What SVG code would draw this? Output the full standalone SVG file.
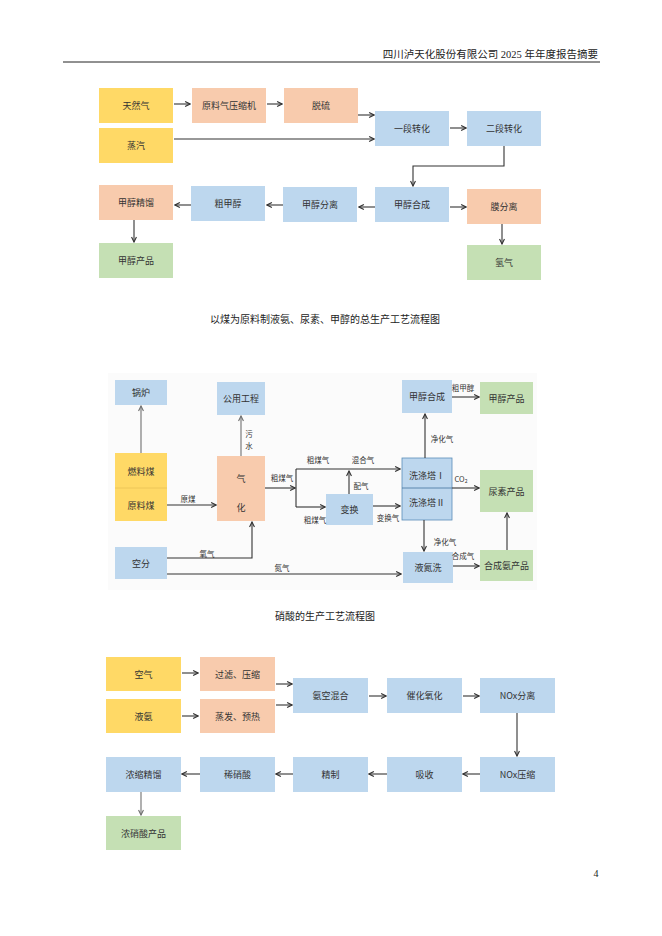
<svg xmlns="http://www.w3.org/2000/svg" width="662" height="936" viewBox="0 0 662 936">
<defs>
<marker id="ah" viewBox="0 0 10 10" refX="9" refY="5" markerWidth="7" markerHeight="7" markerUnits="userSpaceOnUse" orient="auto">
<path d="M2,1.5 L9,5 L2,8.5" fill="none" stroke="#333" stroke-width="1.6"/>
</marker>
<marker id="ahg" viewBox="0 0 10 10" refX="9" refY="5" markerWidth="7" markerHeight="7" markerUnits="userSpaceOnUse" orient="auto">
<path d="M2,1.5 L9,5 L2,8.5" fill="none" stroke="#707070" stroke-width="1.6"/>
</marker>
</defs>
<style>
text{font-family:"Noto Sans CJK SC","Liberation Sans",sans-serif;fill:#333;}
.doc{font-family:"Liberation Serif","Noto Sans CJK SC",serif;fill:#222;}
.n{font-size:9px;text-anchor:middle;dominant-baseline:central;}
.l{font-size:7.5px;text-anchor:middle;dominant-baseline:central;}
.y{fill:#FFD966;}
.p{fill:#F8CBAD;}
.b{fill:#BDD7EE;}
.g{fill:#C5E0B4;}
.c path{fill:none;stroke:#333;stroke-width:1.1;}
.c path.a{marker-end:url(#ah);}
.c path.gr{stroke:#707070;marker-end:url(#ahg);}
</style>
<rect width="662" height="936" fill="#fff"/>
<text class="doc" x="598" y="58" font-size="10.5" text-anchor="end">四川泸天化股份有限公司 2025 年年度报告摘要</text>
<line x1="63" y1="62" x2="600" y2="62" stroke="#222" stroke-width="1"/>

<!-- Diagram 1 -->
<g id="d1-tianranqi"><rect class="y" x="99" y="88" width="74" height="35"/><text class="n" x="136" y="105.5">天然气</text></g>
<g id="d1-yasuoji"><rect class="p" x="192" y="88" width="74" height="35"/><text class="n" x="229" y="105.5">原料气压缩机</text></g>
<g id="d1-tuoliu"><rect class="p" x="284" y="88" width="74" height="35"/><text class="n" x="321" y="105.5">脱硫</text></g>
<g id="d1-zhengqi"><rect class="y" x="99" y="128" width="74" height="35"/><text class="n" x="136" y="145.5">蒸汽</text></g>
<g id="d1-yiduan"><rect class="b" x="375" y="111" width="74" height="35"/><text class="n" x="412" y="128.5">一段转化</text></g>
<g id="d1-erduan"><rect class="b" x="467" y="111" width="74" height="35"/><text class="n" x="504" y="128.5">二段转化</text></g>
<g id="d1-jingliu"><rect class="p" x="99" y="185" width="74" height="35"/><text class="n" x="136" y="202.5">甲醇精馏</text></g>
<g id="d1-cujiachun"><rect class="b" x="191" y="186" width="74" height="35"/><text class="n" x="228" y="203.5">粗甲醇</text></g>
<g id="d1-fenli"><rect class="b" x="283" y="187" width="74" height="35"/><text class="n" x="320" y="204.5">甲醇分离</text></g>
<g id="d1-hecheng"><rect class="b" x="375" y="187" width="74" height="35"/><text class="n" x="412" y="204.5">甲醇合成</text></g>
<g id="d1-mofenli"><rect class="p" x="467" y="189" width="74" height="35"/><text class="n" x="504" y="206.5">膜分离</text></g>
<g id="d1-chanpin"><rect class="g" x="99" y="243" width="74" height="35"/><text class="n" x="136" y="260.5">甲醇产品</text></g>
<g id="d1-qingqi"><rect class="g" x="467" y="245" width="74" height="35"/><text class="n" x="504" y="262.5">氢气</text></g>
<g id="d1-connectors" class="c">
<path class="a" d="M174,104 H190"/>
<path class="a" d="M267,104 H282"/>
<path class="a" d="M358,115 H374"/>
<path class="a" d="M174,139 H374"/>
<path class="a" d="M450,128 H466"/>
<path class="a" d="M504,146 V166 H413 V186"/>
<path class="a" d="M375,207 H359"/>
<path class="a" d="M450,207 H466"/>
<path class="a" d="M502,224 V244"/>
<path class="a" d="M283,205 H267"/>
<path class="a" d="M191,205 H175"/>
<path class="a" d="M134,220 V242"/>
</g>
<text class="doc" x="325" y="323" font-size="10" text-anchor="middle">以煤为原料制液氨、尿素、甲醇的总生产工艺流程图</text>

<!-- Diagram 2 -->
<rect x="108" y="373" width="429" height="217" fill="#FBFBFB"/>
<g id="d2-guolu"><rect class="b" x="115" y="380" width="52" height="25"/><text class="n" x="141" y="392.5">锅炉</text></g>
<g id="d2-gongyong"><rect class="b" x="217" y="382" width="48" height="33"/><text class="n" x="241" y="398.5">公用工程</text></g>
<g id="d2-mei"><rect class="y" x="115" y="453" width="52" height="68"/><line x1="115" y1="488" x2="167" y2="488" stroke="#E8C255" stroke-width="0.8"/><text class="n" x="141" y="471">燃料煤</text><text class="n" x="141" y="505">原料煤</text></g>
<g id="d2-qihua"><rect class="p" x="217" y="456" width="48" height="65"/><text class="n" x="241" y="478" font-size="15">气</text><text class="n" x="241" y="507" font-size="15">化</text></g>
<g id="d2-kongfen"><rect class="b" x="115" y="547" width="52" height="32"/><text class="n" x="141" y="563">空分</text></g>
<g id="d2-hecheng"><rect class="b" x="402" y="380" width="50" height="33"/><text class="n" x="427" y="396.5">甲醇合成</text></g>
<g id="d2-jiachun"><rect class="g" x="480" y="382" width="53" height="32"/><text class="n" x="506.5" y="398">甲醇产品</text></g>
<g id="d2-xidi"><rect class="b" x="402" y="458" width="50" height="62" stroke="#5B8DB8" stroke-width="0.8"/><line x1="402" y1="488" x2="452" y2="488" stroke="#41719C" stroke-width="0.8"/><text class="n" x="427" y="475">洗涤塔Ⅰ</text><text class="n" x="427" y="502">洗涤塔Ⅱ</text></g>
<g id="d2-niaosu"><rect class="g" x="480" y="470" width="53" height="42"/><text class="n" x="506.5" y="491">尿素产品</text></g>
<g id="d2-bianhuan"><rect class="b" x="326" y="494" width="47" height="31"/><text class="n" x="349.5" y="509.5">变换</text></g>
<g id="d2-yedan"><rect class="b" x="403" y="552" width="50" height="31"/><text class="n" x="428" y="567.5">液氮洗</text></g>
<g id="d2-hechengan"><rect class="g" x="480" y="550" width="53" height="31"/><text class="n" x="506.5" y="565.5">合成氨产品</text></g>
<g id="d2-connectors" class="c">
<path class="gr" d="M141,453 V406"/>
<path class="gr" d="M241,456 V416"/>
<path class="a" d="M167,505 H216"/>
<path class="a" d="M167,558 H252 V522"/>
<path class="a" d="M167,574 H401"/>
<path class="a" d="M265,488 H295"/>
<path d="M296,469 V507"/>
<path class="a" d="M296,469 H400"/>
<path class="a" d="M296,507 H325"/>
<path class="a" d="M349,494 V471"/>
<path class="a" d="M373,506 H400"/>
<path class="a" d="M425,458 V414"/>
<path class="a" d="M452,397 H479"/>
<path class="a" d="M452,488 H479"/>
<path class="a" d="M424,520 V551"/>
<path class="a" d="M453,566 H479"/>
<path class="a" d="M507,550 V513"/>
</g>
<g id="d2-labels">
<text class="l" x="249" y="433">污</text>
<text class="l" x="249" y="445">水</text>
<text class="l" x="188" y="498">原煤</text>
<text class="l" x="207" y="553">氧气</text>
<text class="l" x="282" y="567">氮气</text>
<text class="l" x="282" y="477">粗煤气</text>
<text class="l" x="318" y="459">粗煤气</text>
<text class="l" x="363" y="459">混合气</text>
<text class="l" x="315" y="519">粗煤气</text>
<text class="l" x="361" y="485">配气</text>
<text class="l" x="388" y="517">变换气</text>
<text class="l" x="442" y="438">净化气</text>
<text class="l" x="463" y="387">粗甲醇</text>
<text class="l" x="461" y="478" font-family="Liberation Serif">CO<tspan font-size="5" dy="2">2</tspan></text>
<text class="l" x="445" y="541">净化气</text>
<text class="l" x="463" y="555">合成气</text>
</g>
<text class="doc" x="325" y="620" font-size="10" text-anchor="middle">硝酸的生产工艺流程图</text>

<!-- Diagram 3 -->
<g id="d3-kongqi"><rect class="y" x="106" y="657" width="75" height="34"/><text class="n" x="143.5" y="674">空气</text></g>
<g id="d3-guolv"><rect class="p" x="200" y="657" width="75" height="34"/><text class="n" x="237.5" y="674">过滤、压缩</text></g>
<g id="d3-yean"><rect class="y" x="106" y="699" width="75" height="34"/><text class="n" x="143.5" y="716">液氨</text></g>
<g id="d3-zhengfa"><rect class="p" x="200" y="699" width="75" height="34"/><text class="n" x="237.5" y="716">蒸发、预热</text></g>
<g id="d3-ankong"><rect class="b" x="293" y="678" width="75" height="35"/><text class="n" x="330.5" y="695.5">氨空混合</text></g>
<g id="d3-cuihua"><rect class="b" x="387" y="678" width="75" height="35"/><text class="n" x="424.5" y="695.5">催化氧化</text></g>
<g id="d3-noxfenli"><rect class="b" x="480" y="678" width="75" height="35"/><text class="n" x="517.5" y="695.5">NOx分离</text></g>
<g id="d3-nongsuo"><rect class="b" x="106" y="757" width="75" height="35"/><text class="n" x="143.5" y="774.5">浓缩精馏</text></g>
<g id="d3-xixiaosuan"><rect class="b" x="200" y="757" width="75" height="35"/><text class="n" x="237.5" y="774.5">稀硝酸</text></g>
<g id="d3-jingzhi"><rect class="b" x="293" y="757" width="75" height="35"/><text class="n" x="330.5" y="774.5">精制</text></g>
<g id="d3-xishou"><rect class="b" x="387" y="757" width="75" height="35"/><text class="n" x="424.5" y="774.5">吸收</text></g>
<g id="d3-noxyasuo"><rect class="b" x="480" y="757" width="75" height="35"/><text class="n" x="517.5" y="774.5">NOx压缩</text></g>
<g id="d3-chanpin"><rect class="g" x="106" y="816" width="75" height="34"/><text class="n" x="143.5" y="833">浓硝酸产品</text></g>
<g id="d3-connectors" class="c">
<path class="a" d="M182,673 H198"/>
<path class="a" d="M182,716 H198"/>
<path class="a" d="M276,684 H292"/>
<path class="a" d="M276,705 H292"/>
<path class="a" d="M369,696 H386"/>
<path class="a" d="M463,696 H479"/>
<path class="a" d="M517,713 V756"/>
<path class="a" d="M480,774 H463"/>
<path class="a" d="M387,774 H369"/>
<path class="a" d="M293,774 H276"/>
<path class="a" d="M200,774 H182"/>
<path class="gr" d="M141,792 V815"/>
</g>
<text class="doc" x="596" y="877" font-size="10" text-anchor="middle">4</text>
</svg>
